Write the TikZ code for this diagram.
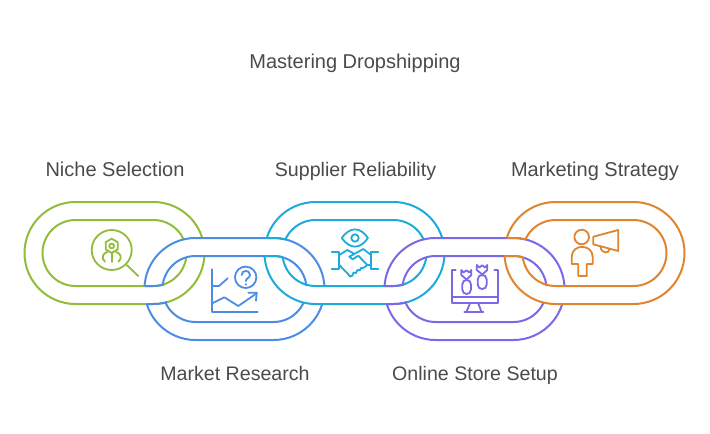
\documentclass[tikz,border=0pt]{standalone}
\usepackage{fontspec}
\setmainfont{Liberation Sans}
\definecolor{cgreen}{HTML}{92BC3A}
\definecolor{cblue}{HTML}{4D8CE4}
\definecolor{ccyan}{HTML}{1FABD9}
\definecolor{cpurple}{HTML}{7C67E8}
\definecolor{corange}{HTML}{E08430}
\definecolor{ctext}{HTML}{4A4A4A}
\tikzset{
  lbl/.style={anchor=base,text=ctext,font=\fontsize{20}{24}\selectfont,inner sep=0pt},
  lblb/.style={lbl,font=\fontsize{19.6}{24}\selectfont},
  ringline/.style={line width=2pt},
  icon/.style={line width=1.8pt,line join=round,line cap=round},
}
\newcommand\stad[4]{(#1+#4,#2) -- (#1+#3-#4,#2) arc[start angle=-90,end angle=90,radius=#4] -- (#1+#4,#2+2*#4) arc[start angle=90,end angle=270,radius=#4] -- cycle}
% x, y, w, r, colour, left hide a,b, right hide a,b
\newcommand\partring[9]{%
  \begin{scope}
    \clip (#1-5,0) rectangle (#1+#3/2,#6) (#1-5,#7) rectangle (#1+#3/2,434)
          (#1+#3/2,0) rectangle (#1+#3+5,#8) (#1+#3/2,#9) rectangle (#1+#3+5,434);
    \draw[ringline,draw=#5] \stad{#1}{#2}{#3}{#4};
  \end{scope}}
% x, y, w, r, colour, clip x0,y0,x1,y1
\newcommand\overseg[9]{%
  \begin{scope}
    \clip (#6,#7) rectangle (#8,#9);
    \draw[ringline,draw=#5] \stad{#1}{#2}{#3}{#4};
  \end{scope}}
\begin{document}
\begin{tikzpicture}[x=1pt,y=-1pt]
\useasboundingbox (0,0) rectangle (710,434);
% labels
\node[lbl] (title) at (355,68) {Mastering Dropshipping};
\node[lbl] (niche) at (115,176) {Niche Selection};
\node[lblb] (supplier) at (355.5,176) {Supplier Reliability};
\node[lbl] (marketing) at (595,176) {Marketing Strategy};
\node[lblb] (research) at (235,380) {Market Research};
\node[lblb] (store) at (475,380) {Online Store Setup};
% rings
\partring{24.5}{202}{180}{51}{cgreen}{434}{434}{238}{256}
\partring{42.5}{220}{144}{33}{cgreen}{434}{434}{239.5}{257}
\partring{144.5}{238}{180}{51}{cblue}{286}{304}{286}{304}
\partring{162.5}{256}{144}{33}{cblue}{286}{302}{286}{302}
\partring{264.5}{202}{180}{51}{ccyan}{238}{256}{238}{256}
\partring{282.5}{220}{144}{33}{ccyan}{239.5}{257}{239.5}{257}
\partring{384.5}{238}{180}{51}{cpurple}{286}{304}{286}{304}
\partring{402.5}{256}{144}{33}{cpurple}{286}{302}{286}{302}
\partring{504.5}{202}{180}{51}{corange}{238}{256}{434}{434}
\partring{522.5}{220}{144}{33}{corange}{239.5}{257}{434}{434}
% crossing segments in the colour of the later link
\overseg{42.5}{220}{144}{33}{cblue}{144.5}{270}{163}{295}
\overseg{24.5}{202}{180}{51}{cblue}{146.5}{295}{167}{310}
\overseg{144.5}{238}{180}{51}{ccyan}{267.5}{230}{285}{245}
\overseg{162.5}{256}{144}{33}{ccyan}{264.5}{248}{283}{262}
\overseg{282.5}{220}{144}{33}{cpurple}{384.5}{270}{403}{295}
\overseg{264.5}{202}{180}{51}{cpurple}{386.5}{295}{407}{310}
\overseg{384.5}{238}{180}{51}{corange}{507.5}{230}{525}{245}
\overseg{402.5}{256}{144}{33}{corange}{504.5}{248}{523}{262}
% green icon
\begin{scope}[icon,draw=cgreen]
\draw (111.7,250) circle[radius=20];
\draw (126.7,265) -- (138.3,276);
\draw (111.7,238.7) -- (117.7,242.2) -- (117.7,249.4) -- (111.7,252.9) -- (105.7,249.4) -- (105.7,242.2) -- cycle;
\draw (111.7,246) circle[radius=2.4];
\draw (111.7,253) -- (111.7,262);
\draw (107.3,252) .. controls (103,253) and (100.5,258) .. (105,261.7);
\draw (116.1,252) .. controls (120.4,253) and (122.9,258) .. (118.4,261.7);
\end{scope}
% blue icon
\begin{scope}[icon,draw=cblue]
\draw (212.3,269.3) -- (212.3,311.7) -- (257.7,311.7);
\draw (212.3,286) -- (219,286) -- (227.7,278.3);
\draw (245.7,277.3) circle[radius=10.7];
\draw (241.7,275) .. controls (241.7,269.5) and (250,269.5) .. (250,275) .. controls (250,278) and (245.9,278) .. (245.9,281);
\fill[cblue] (245.9,284.4) circle[radius=1.2];
\draw (212.3,303.3) -- (224.3,297.3) -- (238.3,306) -- (256.7,293.3);
\draw (248.3,292.7) -- (256.7,292.7) -- (256,300.7);
\end{scope}
% cyan icon
\begin{scope}[icon,draw=ccyan]
\draw (341.7,238) .. controls (350,226.5) and (360,226.5) .. (368,238) .. controls (360,249.5) and (350,249.5) .. (341.7,238) -- cycle;
\draw (355,238) circle[radius=3.7];
\draw (331.7,252.3) -- (339.3,252.3) -- (339.3,269) -- (331.7,269);
\draw (378.3,252.3) -- (371,252.3) -- (371,269) -- (378.3,269);
\draw (339.3,255) -- (347.3,250) -- (353.3,253.3);
\draw (371,255) -- (363.3,249) -- (349.3,256.7) -- (352.7,259.3) -- (358.3,255.7) -- (367.3,265) -- (371,265);
\draw (339.3,265) -- (348.3,274.3) -- (350,276.7) -- (352.5,275.5) -- (353.5,272.5) -- (356,273) -- (357.5,270) -- (360,270.2) -- (361,268) -- (363.5,267.8) -- (367.3,265);
\end{scope}
% purple icon
\begin{scope}[icon,draw=cpurple]
\draw (455.7,270) -- (451.7,270) -- (451.7,303.3) -- (498.3,303.3) -- (498.3,270) -- (494.3,270);
\draw (451.7,297.3) -- (498.3,297.3);
\draw (470,303.3) -- (466.5,312) (478.3,303.3) -- (481.5,312);
\draw (464.3,312.3) -- (483.3,312.3);
\draw (462.3,284.5) .. controls (462.3,278.5) and (471,278.5) .. (471,284.5) -- (471,289.5) .. controls (471,295.5) and (462.3,295.5) .. (462.3,289.5) -- cycle;
\draw (477.7,279.5) .. controls (477.7,273.5) and (486.7,273.5) .. (486.7,279.5) -- (486.7,284.5) .. controls (486.7,290.5) and (477.7,290.5) .. (477.7,284.5) -- cycle;
\draw (461.3,270) -- (463.5,272.5) -- (466.5,270.3) -- (469.3,272.5) -- (471.3,270) -- (471.3,275) -- (466.5,279.5) -- (461.3,275) -- cycle;
\draw (476.8,265) -- (479.3,267.5) -- (482.2,265.3) -- (485,267.5) -- (487.3,265) -- (487.3,270) -- (482.2,274.5) -- (476.8,270) -- cycle;
\end{scope}
% orange icon
\begin{scope}[icon,draw=corange]
\draw (581.7,237) circle[radius=7.3];
\draw (571.7,264) -- (571.7,257) .. controls (571.7,243.5) and (592.7,243.5) .. (592.7,257) -- (592.7,264) -- (586.7,264) -- (586.7,276) -- (578.3,276) -- (578.3,264) -- cycle;
\draw (593.3,236.7) -- (618.3,230) -- (618.3,251) -- (593.3,244.3) -- cycle;
\draw (600.7,246.5) .. controls (600.5,254) and (610,254) .. (609.3,248.8);
\end{scope}
\end{tikzpicture}
\end{document}
